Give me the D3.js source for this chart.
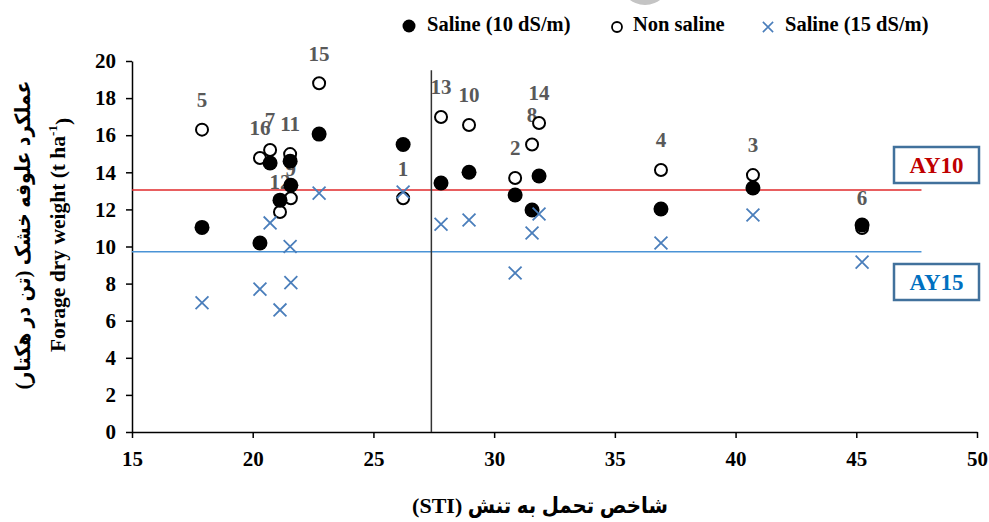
<!DOCTYPE html>
<html>
<head>
  <meta charset="utf-8">
  <title>STI scatter</title>
  <script src="https://d3js.org/d3.v7.min.js"></script>
  <style>
    body { margin: 0; background: #fff; }
    text { font-family: "Liberation Serif", "DejaVu Sans Condensed", serif; font-weight: bold; }
    .axis path, .axis line { stroke: #000; stroke-width: 1.5; }
    .axis text { font-size: 21px; fill: #000; }
  </style>
</head>
<body>
  <svg id="chart"></svg>

  <script>
    // genotype numbers and their stress tolerance index
    const genotypes = ["1","2","3","4","5","6","7","8","9","10","11","12","13","14","15","16"];
    const sti = [26.23, 30.87, 40.72, 36.91, 17.9, 45.24, 20.72, 31.57, 21.58, 28.96, 21.55, 21.13, 27.8, 31.86, 22.75, 20.3];

    // forage dry weight (t/ha)
    const nonSaline = [12.6, 13.69, 13.85, 14.12, 16.3, 11.0, 15.2, 15.5, 12.6, 16.55, 14.98, 11.86, 16.98, 16.66, 18.8, 14.77];
    const saline10  = [15.5, 12.78, 13.15, 12.02, 11.03, 11.16, 14.5, 11.97, 13.3, 14.0, 14.6, 12.5, 13.42, 13.8, 16.06, 10.19];
    const saline15  = [12.94, 8.57, 11.7, 10.19, 6.97, 9.16, 11.27, 10.73, 8.05, 11.43, 10.0, 6.58, 11.2, 11.75, 12.88, 7.7];

    // reference lines
    const ay10 = 13.05;
    const ay15 = 9.72;
    const lineEnd = 47.7;
    const stiMean = 27.4;
    const stiLineTop = 19.5;

    const xTicks = [15, 20, 25, 30, 35, 40, 45, 50];
    const yTicks = [0, 2, 4, 6, 8, 10, 12, 14, 16, 18, 20];

    const width = 989, height = 522;
    const svg = d3.select("#chart").attr("width", width).attr("height", height);

    const x = d3.scaleLinear().domain([15, 50]).range([132, 977]);
    const y = d3.scaleLinear().domain([0, 20]).range([432, 61]);

    // stray grey blob at the top edge
    svg.append("circle").attr("cx", 645).attr("cy", -20).attr("r", 25).attr("fill", "#c4c4c4");

    // axes
    svg.append("g").attr("class", "axis")
      .attr("transform", "translate(0,432)")
      .call(d3.axisBottom(x).tickValues(xTicks).tickSize(6).tickSizeOuter(0).tickPadding(13));
    svg.append("g").attr("class", "axis")
      .attr("transform", "translate(132,0)")
      .call(d3.axisLeft(y).tickValues(yTicks).tickSize(6).tickSizeOuter(0).tickPadding(10));

    // horizontal AY lines and vertical mean line
    svg.append("line")
      .attr("x1", x(15)).attr("x2", x(lineEnd)).attr("y1", y(ay10)).attr("y2", y(ay10))
      .attr("stroke", "#e0292b").attr("stroke-width", 1.5);
    svg.append("line")
      .attr("x1", x(15)).attr("x2", x(lineEnd)).attr("y1", y(ay15)).attr("y2", y(ay15))
      .attr("stroke", "#4a93d6").attr("stroke-width", 1.5);
    svg.append("line")
      .attr("x1", x(stiMean)).attr("x2", x(stiMean)).attr("y1", y(0)).attr("y2", y(stiLineTop))
      .attr("stroke", "#333").attr("stroke-width", 1.5);

    // genotype labels, 30px above the non saline point
    svg.append("g").selectAll("text")
      .data(genotypes)
      .join("text")
      .attr("x", (d, i) => x(sti[i]))
      .attr("y", (d, i) => y(nonSaline[i]) - 30)
      .attr("dy", "0.35em")
      .attr("text-anchor", "middle")
      .attr("font-size", 21)
      .attr("fill", "#595959")
      .text(d => d);

    // markers
    svg.append("g").selectAll("circle")
      .data(nonSaline)
      .join("circle")
      .attr("cx", (d, i) => x(sti[i]))
      .attr("cy", d => y(d))
      .attr("r", 6)
      .attr("fill", "#fff")
      .attr("stroke", "#000")
      .attr("stroke-width", 2);

    svg.append("g").selectAll("circle")
      .data(saline10)
      .join("circle")
      .attr("cx", (d, i) => x(sti[i]))
      .attr("cy", d => y(d))
      .attr("r", 7.5)
      .attr("fill", "#000");

    const cross = d3.symbol().type(d3.symbolX).size(110);
    svg.append("g").selectAll("path")
      .data(saline15)
      .join("path")
      .attr("transform", (d, i) => `translate(${x(sti[i])},${y(d)})`)
      .attr("d", cross)
      .attr("fill", "none")
      .attr("stroke", "#4a7ebb")
      .attr("stroke-width", 1.8);

    // AY boxes
    const boxes = [
      { label: "AY10", y0: 147, color: "#c00000" },
      { label: "AY15", y0: 264, color: "#0070c0" }
    ];
    boxes.forEach(b => {
      svg.append("rect")
        .attr("x", 894).attr("y", b.y0).attr("width", 85).attr("height", 36)
        .attr("fill", "#fff").attr("stroke", "#41719c").attr("stroke-width", 2.5);
      svg.append("text")
        .attr("x", 936.5).attr("y", b.y0 + 18).attr("dy", "0.35em")
        .attr("text-anchor", "middle").attr("font-size", 23).attr("fill", b.color)
        .text(b.label);
    });

    // legend
    const legend = svg.append("g").attr("font-size", 20.5);
    legend.append("circle").attr("cx", 409).attr("cy", 26).attr("r", 6.5).attr("fill", "#000");
    legend.append("text").attr("x", 427).attr("y", 31).text("Saline (10 dS/m)");
    legend.append("circle").attr("cx", 617).attr("cy", 27).attr("r", 5)
      .attr("fill", "#fff").attr("stroke", "#000").attr("stroke-width", 1.8);
    legend.append("text").attr("x", 633).attr("y", 31).text("Non saline");
    legend.append("path").attr("transform", "translate(768,27)")
      .attr("d", d3.symbol().type(d3.symbolX).size(70))
      .attr("fill", "none").attr("stroke", "#4a7ebb").attr("stroke-width", 1.6);
    legend.append("text").attr("x", 785).attr("y", 31).text("Saline (15 dS/m)");

    // axis titles
    svg.append("text")
      .attr("x", 540).attr("y", 505).attr("dy", "0.35em")
      .attr("text-anchor", "middle").attr("font-size", 22)
      .attr("direction", "rtl")
      .text("شاخص تحمل به تنش (STI)");

    const yTitle = svg.append("g").attr("transform", "translate(0,235) rotate(-90)");
    yTitle.append("text")
      .attr("x", 0).attr("y", 23).attr("dy", "0.35em")
      .attr("text-anchor", "middle").attr("font-size", 21)
      .attr("direction", "rtl")
      .text("عملکرد علوفه خشک (تن در هکتار)");
    const en = yTitle.append("text")
      .attr("x", 0).attr("y", 57).attr("dy", "0.35em")
      .attr("text-anchor", "middle").attr("font-size", 21.5);
    en.append("tspan").text("Forage dry weight (t ha");
    en.append("tspan").attr("font-size", 13).attr("dy", "-0.6em").text("-1");
    en.append("tspan").attr("dy", "0.6em").text(")");
  </script>
</body>
</html>
